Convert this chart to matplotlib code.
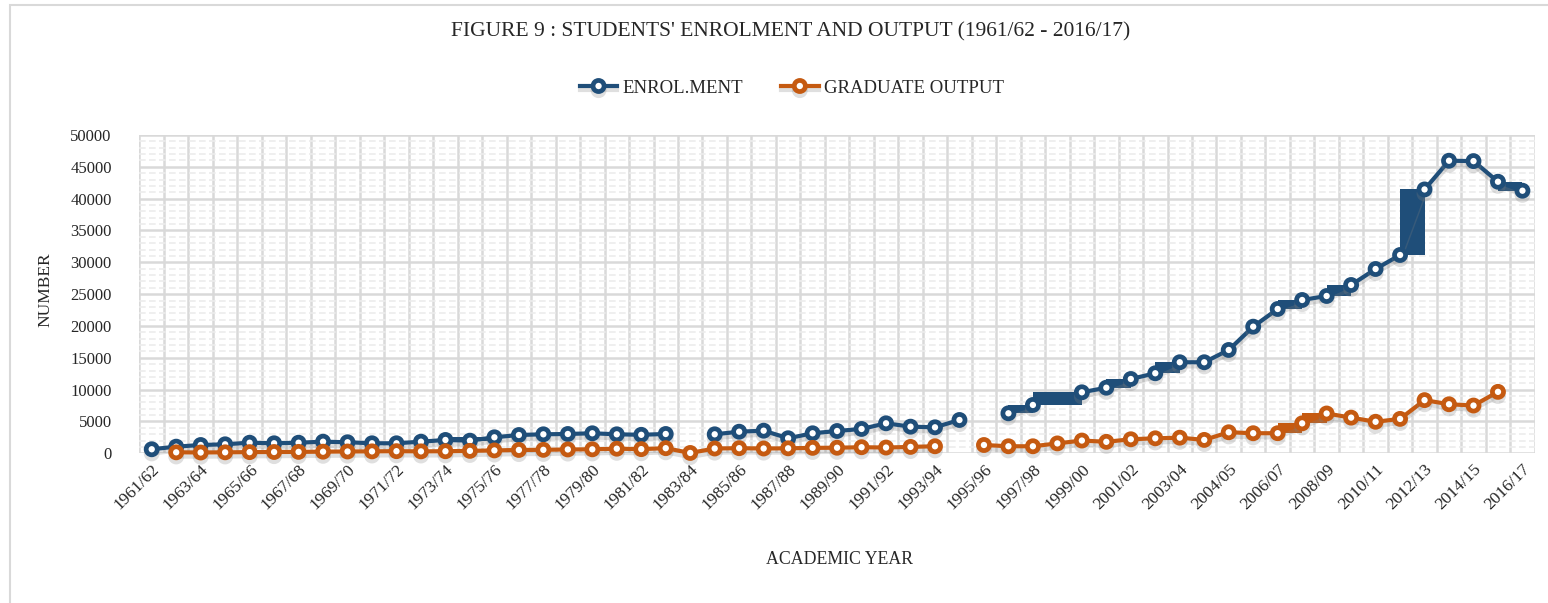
import numpy as np
import matplotlib.pyplot as plt
from matplotlib import patheffects as pe
from matplotlib.patches import Rectangle

nan = np.nan

academic_years = [
    "1961/62", "1962/63", "1963/64", "1964/65", "1965/66", "1966/67", "1967/68", "1968/69", "1969/70", "1970/71",
    "1971/72", "1972/73", "1973/74", "1974/75", "1975/76", "1976/77", "1977/78", "1978/79", "1979/80", "1980/81",
    "1981/82", "1982/83", "1983/84", "1984/85", "1985/86", "1986/87", "1987/88", "1988/89", "1989/90", "1990/91",
    "1991/92", "1992/93", "1993/94", "1994/95", "1995/96", "1996/97", "1997/98", "1998/99", "1999/00", "2000/01",
    "2001/02", "2002/03", "2003/04", "2004/05", "2004/05", "2005/06", "2006/07", "2007/08", "2008/09", "2009/10",
    "2010/11", "2011/12", "2012/13", "2013/14", "2014/15", "2015/16", "2016/17"]

enrolment = [630, 1040, 1300, 1410, 1660, 1570, 1660, 1820, 1730, 1570,
             1570, 1820, 2090, 1980, 2510, 2870, 2980, 3030, 3140, 2980,
             2900, 3030, nan, 2980, 3390, 3550, 2360, 3140, 3500, 3820,
             4710, 4180, 4080, 5230, nan, 6280, 7590, nan, 9580, 10300,
             11670, 12570, 14300, 14300, 16230, 19890, 22670, 24080, 24710, 26440,
             28950, 31150, 41450, 45960, 45900, 42660, 41250]

graduates = [nan, 150, 120, 150, 180, 200, 220, 250, 280, 300,
             330, 300, 320, 380, 450, 520, 540, 600, 620, 720,
             650, 800, 50, 750, 800, 750, 780, 850, 870, 950,
             900, 1000, 1100, nan, 1300, 1100, 1100, 1550, 2000, 1800,
             2200, 2350, 2450, 2100, 3300, 3150, 3150, 4700, 6250, 5600,
             4950, 5400, 8350, 7700, 7500, 9650, nan]

# segments that the original chart renders as solid blocks
enrol_blocks = [(12, 14), (14, 15), (31, 32), (35, 36), (36, 38), (39, 40),
                (41, 42), (46, 47), (48, 49), (51, 52), (55, 56)]
grad_blocks = [(46, 47), (47, 48)]

BLUE = "#1f4e79"
ORANGE = "#c55a11"
GRID = "#d9d9d9"
TEXT = "#262626"
plt.rcParams["font.family"] = ["Liberation Serif", "DejaVu Serif"]

fig = plt.figure(figsize=(15.48, 6.03), dpi=100)
ax = fig.add_axes([0.0901, 0.2483, 0.9013, 0.5278])

x = np.arange(len(academic_years))
shadow = [pe.SimpleLineShadow(offset=(0, -3), shadow_color="gray", alpha=0.25), pe.Normal()]

series = [(enrolment, enrol_blocks, BLUE, "ENROL.MENT"),
          (graduates, grad_blocks, ORANGE, "GRADUATE OUTPUT")]
for vals, blocks, col, name in series:
    vals = np.asarray(vals, dtype=float)
    for a, b in blocks:
        seg = vals[a:b + 1]
        ax.fill_between([x[a], x[b]], np.nanmin(seg), np.nanmax(seg),
                        color=col, linewidth=0, zorder=3)
    ax.plot(x, vals, color=col, lw=3, marker="o", ms=8, mfc="white",
            mec=col, mew=3.4, label=name, zorder=4, clip_on=False,
            path_effects=shadow)

ax.set_xlim(-0.5, len(academic_years) - 0.5)
ax.set_ylim(0, 50000)
ax.set_yticks(np.arange(0, 50001, 5000))
ax.set_yticks(np.arange(0, 50001, 1000), minor=True)
ax.set_xticks(x[::2])
ax.set_xticklabels(academic_years[::2], rotation=45, ha="right",
                   rotation_mode="anchor", fontsize=12.5, color=TEXT)
ax.set_xticks(np.arange(-0.5, len(academic_years), 1), minor=True)
ax.tick_params(axis="both", which="both", length=0)
ax.tick_params(axis="y", pad=20, labelsize=12, labelcolor=TEXT)
ax.tick_params(axis="x", pad=6)

ax.yaxis.grid(True, which="major", color=GRID, lw=1.8)
ax.yaxis.grid(True, which="minor", color="#ececec", lw=1.2, ls=(0, (4, 2)))
ax.xaxis.grid(True, which="minor", color=GRID, lw=1.8)
ax.set_axisbelow(True)
for s in ax.spines.values():
    s.set_visible(False)

fig.text(0.5105, 1 - 32 / 603, "FIGURE 9 : STUDENTS' ENROLMENT AND OUTPUT (1961/62 - 2016/17)",
         ha="center", va="center", fontsize=15.5, color=TEXT)
fig.text(45 / 1548, 1 - 290 / 603, "NUMBER", rotation=90, ha="center", va="center",
         fontsize=12.5, color=TEXT)
fig.text(840 / 1548, 1 - 560 / 603, "ACADEMIC YEAR", ha="center", va="center",
         fontsize=12.8, color=TEXT)

fig.legend(loc="center", bbox_to_anchor=(792 / 1548, 1 - 88 / 603), ncol=2,
           frameon=False, fontsize=13.5, handlelength=2.0, handletextpad=0.3,
           columnspacing=2.0, labelcolor=TEXT)

fig.patches.append(Rectangle((10 / 1548, -0.05), 1.2, 1 - 5 / 603 + 0.05,
                             transform=fig.transFigure, fill=False,
                             edgecolor=GRID, lw=1.5))

fig.savefig("out.png", dpi=100)
